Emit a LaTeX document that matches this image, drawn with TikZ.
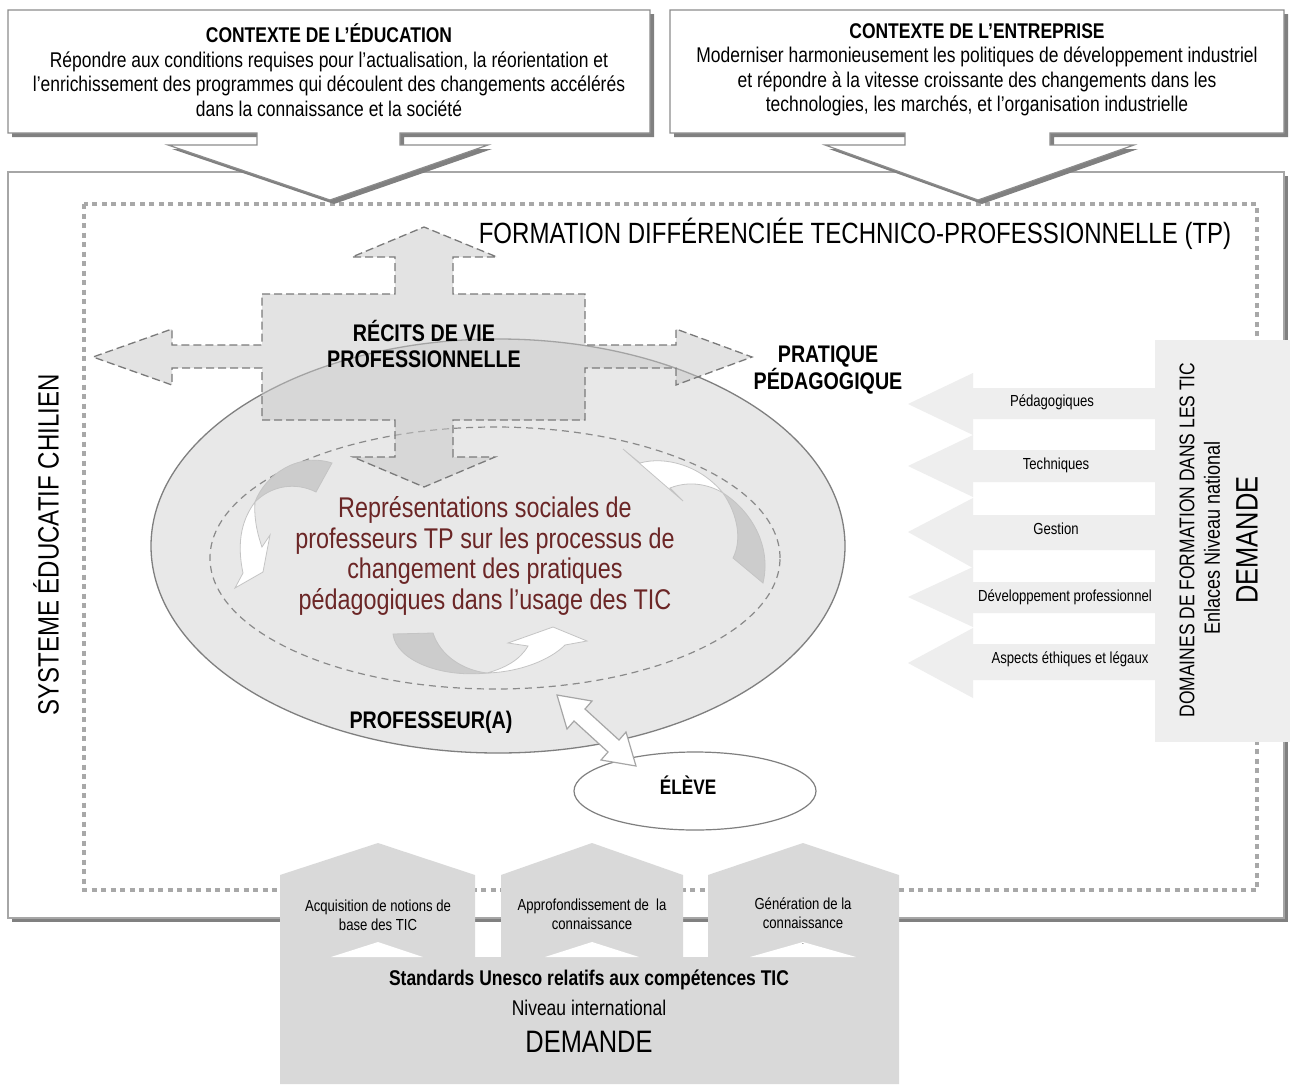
\documentclass[tikz,border=0pt]{standalone}
\usepackage{fontspec}
\setmainfont{Liberation Sans}[FakeStretch=0.82]
\usetikzlibrary{shapes.geometric}

\definecolor{shadowgray}{HTML}{808080}
\definecolor{boxedge}{HTML}{8C8C8C}
\definecolor{frameedge}{HTML}{A6A6A6}
\definecolor{dotgray}{HTML}{A8A8A8}
\definecolor{ovalfill}{HTML}{E8E8E8}
\definecolor{ovaledge}{HTML}{7F7F7F}
\definecolor{innerdash}{HTML}{8A8A8A}
\definecolor{crossfill}{HTML}{C8C8C8}
\definecolor{crossedge}{HTML}{7A7A7A}
\definecolor{bandgray}{HTML}{CCCCCC}
\definecolor{bandedge}{HTML}{C4C4C4}
\definecolor{redtext}{HTML}{6B2626}
\definecolor{panelgray}{HTML}{EEEEEE}
\definecolor{basegray}{HTML}{D9D9D9}

% type sizes (1pt = one unit of the drawing)
\newcommand\szBody{\fontsize{21.3}{24.5}\selectfont}
\newcommand\szTitle{\fontsize{29.3}{32}\selectfont}
\newcommand\szMid{\fontsize{24}{26.5}\selectfont}
\newcommand\szCore{\fontsize{28.5}{30.5}\selectfont}
\newcommand\szSmall{\fontsize{16}{19}\selectfont}
\newcommand\szBig{\fontsize{31}{34}\selectfont}
\newcommand\szPlain{\fontsize{21.3}{24}\selectfont}

\begin{document}
\begin{tikzpicture}[x=1pt,y=-1pt,
  every node/.style={inner sep=0pt,outer sep=0pt,align=center},
  shadowshape/.style={fill=shadowgray,draw=none},
  calloutbox/.style={fill=white,draw=boxedge,line width=1.2pt},
  outerframe/.style={fill=white,draw=frameedge,line width=1.5pt},
  dottedframe/.style={draw=dotgray,line width=4.5pt,dash pattern=on 5pt off 4.5pt},
  teacheroval/.style={ellipse,fill=ovalfill,draw=ovaledge,line width=1.3pt},
  innerloop/.style={ellipse,draw=innerdash,line width=1.2pt,dash pattern=on 7pt off 5pt},
  crossshape/.style={fill=crossfill,fill opacity=.5,draw=crossedge,line width=1.3pt,dash pattern=on 8pt off 4pt},
  bandgrey/.style={fill=bandgray,draw=bandedge,line width=.8pt},
  bandwhite/.style={fill=white,draw=bandedge,line width=.8pt},
  linkarrow/.style={fill=white,draw=frameedge,line width=1.2pt},
  pupil/.style={ellipse,fill=white,draw=ovaledge,line width=1.2pt,minimum width=242pt,minimum height=78pt},
  domainarrow/.style={fill=panelgray,draw=none},
  basepanel/.style={fill=basegray,draw=none}
]
\useasboundingbox (0,0) rectangle (1290,1084);

% ---- outer frame: the Chilean education system
\fill[shadowgray] (12,176) rectangle (1288,922);
\draw[outerframe] (8,172) rectangle (1284,918);

% ---- dotted frame: TP training
\draw[dottedframe] (84,204) rectangle (1257,890);

% ---- context callouts
\fill[shadowshape] (12,14) -- (654,14) -- (654,137) -- (404,137) -- (404,149) -- (492,149) -- (334,204) -- (172,149) -- (261,149) -- (261,137) -- (12,137) -- cycle;
\draw[calloutbox] (8,10) -- (650,10) -- (650,133) -- (400,133) -- (400,145) -- (488,145) -- (330,200) -- (168,145) -- (257,145) -- (257,133) -- (8,133) -- cycle;
\fill[shadowshape] (674,14) -- (1288,14) -- (1288,137) -- (1054,137) -- (1054,149) -- (1138,149) -- (982,204) -- (829,149) -- (909,149) -- (909,137) -- (674,137) -- cycle;
\draw[calloutbox] (670,10) -- (1284,10) -- (1284,133) -- (1050,133) -- (1050,145) -- (1134,145) -- (978,200) -- (825,145) -- (905,145) -- (905,133) -- (670,133) -- cycle;

\node[font=\szBody] (edu) at (329,70) {\textbf{CONTEXTE DE L’ÉDUCATION}\\
  Répondre aux conditions requises pour l’actualisation, la réorientation et\\
  l’enrichissement des programmes qui découlent des changements accélérés\\
  dans la connaissance et la société};
\node[font=\szBody] (ent) at (977,70) {\textbf{CONTEXTE DE L’ENTREPRISE}\\
  Moderniser harmonieusement les politiques de développement industriel\\
  et répondre à la vitesse croissante des changements dans les\\
  technologies, les marchés, et l’organisation industrielle};

% ---- titles of the frames
\node[font=\szTitle] (tp) at (855,234) {FORMATION DIFFÉRENCIÉE TECHNICO-PROFESSIONNELLE (TP)};
\node[font=\szTitle,rotate=90] (sys) at (46,545) {SYSTEME ÉDUCATIF CHILIEN};

% ---- teacher oval and inner loop
\node[teacheroval,minimum width=694pt,minimum height=414pt] (teacher) at (498,546) {};
\node[innerloop,minimum width=570pt,minimum height=262pt] (loop) at (495,558) {};

% ---- cross of life stories
\path[crossshape] (262,294) -- (395,294) -- (395,257) -- (352,257) -- (424,227) -- (497,257) -- (453,257) -- (453,294)
  -- (585,294) -- (585,345) -- (676,345) -- (676,329) -- (752,357) -- (676,385) -- (676,368) -- (585,368) -- (585,420)
  -- (453,420) -- (453,457) -- (495,457) -- (424,487) -- (353,457) -- (395,457) -- (395,420)
  -- (262,420) -- (262,368) -- (172,368) -- (172,385) -- (93,357) -- (172,329) -- (172,345) -- (262,345) -- cycle;

% ---- cycle arrows around the core
\path[bandgrey] (332,463) .. controls (298,452) and (265,475) .. (255,502) .. controls (272,485) and (296,482) .. (316,492) -- cycle;
\path[bandwhite] (255,502) .. controls (243,518) and (236,540) .. (243,573) -- (235,588) -- (263,572) -- (270,535) -- (262,547) .. controls (256,530) and (254,515) .. (255,502) -- cycle;

\path[bandwhite] (623,449) -- (640,463) .. controls (665,456) and (700,465) .. (723,493) .. controls (710,485) and (690,480) .. (670,488) -- (683,501) -- cycle;
\path[bandgrey] (723,493) .. controls (750,510) and (772,545) .. (763,583) -- (733,558) .. controls (742,540) and (738,515) .. (723,493) -- cycle;

\path[bandgrey] (393,634) -- (433,633) .. controls (440,655) and (462,670) .. (487,673) .. controls (440,678) and (396,660) .. (393,634) -- cycle;
\path[bandwhite] (487,673) .. controls (520,672) and (550,660) .. (565,645) -- (587,641) -- (553,627) -- (508,643) -- (528,646) .. controls (520,660) and (505,668) .. (487,673) -- cycle;

% ---- labels inside the oval
\node[font=\szMid] (recits) at (424,344) {\textbf{RÉCITS DE VIE}\\\textbf{PROFESSIONNELLE}};
\node[font=\szMid] (pratique) at (828,370) {\textbf{PRATIQUE}\\\textbf{PÉDAGOGIQUE}};
\node[font=\szCore,text=redtext] (core) at (485,556) {Représentations sociales de\\
  professeurs TP sur les processus de\\
  changement des pratiques\\
  pédagogiques dans l’usage des TIC};
\node[font=\szMid] (prof) at (431,722) {\textbf{PROFESSEUR(A)}};

% ---- pupil and the two-way link
\node[pupil] (eleve) at (695,791) {};
\node[font=\fontsize{21}{24}\selectfont] (elevetext) at (688,785) {\textbf{ÉLÈVE}};
\path[linkarrow] (557,695) -- (592,701) -- (585,709) -- (619,740) -- (626,732) -- (636,766)
  -- (601,760) -- (608,752) -- (574,721) -- (567,729) -- cycle;

% ---- national domains panel
\fill[panelgray] (1155,340) rectangle (1290,742);
\path[domainarrow] (1155,388) -- (973,388) -- (973,373) -- (908,404) -- (973,435) -- (973,419) -- (1155,419) -- cycle;
\path[domainarrow] (1155,450) -- (973,450) -- (973,435) -- (908,466) -- (973,497) -- (973,482) -- (1155,482) -- cycle;
\path[domainarrow] (1155,515) -- (973,515) -- (973,498) -- (908,532) -- (973,568) -- (973,550) -- (1155,550) -- cycle;
\path[domainarrow] (1155,582) -- (973,582) -- (973,567) -- (908,597) -- (973,627) -- (973,613) -- (1155,613) -- cycle;
\path[domainarrow] (1155,644) -- (973,644) -- (973,628) -- (908,663) -- (973,698) -- (973,680) -- (1155,680) -- cycle;
\node[font=\szSmall] (d1) at (1052,402) {Pédagogiques};
\node[font=\szSmall] (d2) at (1056,465) {Techniques};
\node[font=\szSmall] (d3) at (1056,529) {Gestion};
\node[font=\szSmall] (d4) at (1065,597) {Développement professionnel};
\node[font=\szSmall] (d5) at (1070,659) {Aspects éthiques et légaux};
\node[font=\szPlain,rotate=90] (dom) at (1187,540) {DOMAINES DE FORMATION DANS LES TIC};
\node[font=\fontsize{22}{24}\selectfont,rotate=90] (enl) at (1212,538) {Enlaces Niveau national};
\node[font=\szBig,rotate=90] (demR) at (1247,540) {DEMANDE};

% ---- UNESCO standards panel
\path[basepanel] (280,957) -- (280,875) -- (378,843) -- (475,875) -- (475,957) -- (501,957) -- (501,875) -- (592,843) -- (683,875)
  -- (683,957) -- (708,957) -- (708,875) -- (803,843) -- (899,875) -- (899,1084) -- (280,1084) -- cycle;
\fill[white] (331,957) -- (378,942) -- (423,957) -- cycle;
\fill[white] (545,957) -- (592,942) -- (639,957) -- cycle;
\fill[white] (750,957) -- (803,942) -- (856,957) -- cycle;
\node[font=\szSmall] (s1) at (378,915) {Acquisition de notions de\\base des TIC};
\node[font=\szSmall] (s2) at (592,914) {Approfondissement de\ \ la\\connaissance};
\node[font=\szSmall] (s3) at (803,913) {Génération de la\\connaissance};
\node[font=\fontsize{8}{8}\selectfont] (s3dot) at (803,944) {.};
\node[font=\szPlain] (unesco) at (589,980) {\textbf{Standards Unesco relatifs aux compétences TIC}};
\node[font=\szPlain] (intl) at (589,1008) {Niveau international};
\node[font=\szBig] (demB) at (589,1042) {DEMANDE};
\end{tikzpicture}
\end{document}
